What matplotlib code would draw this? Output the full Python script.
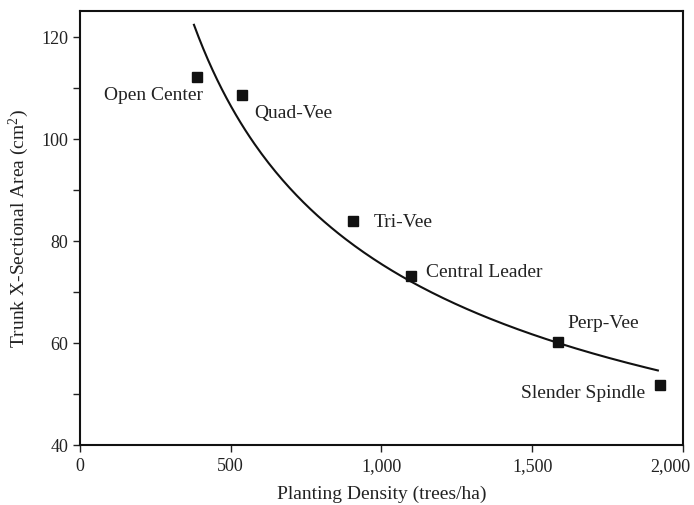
import numpy as np
import matplotlib
matplotlib.use('Agg')
import matplotlib.pyplot as plt
from matplotlib.ticker import FuncFormatter, MultipleLocator
from matplotlib.transforms import ScaledTranslation

# values
systems = ['Open Center', 'Quad-Vee', 'Tri-Vee', 'Central Leader', 'Perp-Vee', 'Slender Spindle']
density = [388, 537, 905, 1098, 1585, 1924]
area = [112.0, 108.5, 83.8, 73.1, 60.2, 51.7]
# label placement: offset in points and alignment
offsets = [(4, -12), (9, -12), (15, 0), (11, 3), (7, 14), (-11, -5)]
aligns = ['right', 'left', 'left', 'left', 'left', 'right']

plt.rcParams['font.family'] = ['Liberation Serif', 'DejaVu Serif']
plt.rcParams['mathtext.fontset'] = 'custom'
plt.rcParams['mathtext.rm'] = 'Liberation Serif'
plt.rcParams['mathtext.it'] = 'Liberation Serif:italic'

ink = '#222222'
fig = plt.figure(figsize=(6.94, 5.06), dpi=100)
ax = fig.add_axes([0.1153, 0.1186, 0.8687, 0.8574])

# power-law fit y = a*x^b through the points
b, lna = np.polyfit(np.log(density), np.log(area), 1)
xs = np.linspace(min(density) - 10, max(density) - 7, 200)
ax.plot(xs, np.exp(lna) * xs ** b, color='#111111', lw=1.5)

ax.plot(density, area, 's', color='#111111', ms=7.5)

for name, x, y, off, ha in zip(systems, density, area, offsets, aligns):
    ax.annotate(name, (x, y), xytext=off, textcoords='offset points',
                ha=ha, va='center', fontsize=14, color=ink)

ax.set_xlim(0, 2000)
ax.set_ylim(40, 125)
ax.set_xticks([0, 500, 1000, 1500, 2000])
ax.set_yticks([40, 60, 80, 100, 120])
ax.yaxis.set_minor_locator(MultipleLocator(10))
ax.xaxis.set_major_formatter(FuncFormatter(lambda v, p: '{:,.0f}'.format(v)))
ax.tick_params(which='both', direction='out', length=5, width=1, labelsize=13,
               colors=ink, pad=3.5)
for s in ax.spines.values():
    s.set_linewidth(1.5)
    s.set_color('#111111')

ax.set_xlabel('Planting Density (trees/ha)', fontsize=14, color=ink, labelpad=8)
ax.set_ylabel('Trunk X-Sectional Area (cm$^{2}$)', fontsize=14, color=ink,
              labelpad=7)

fig.canvas.draw()
last = ax.get_xticklabels()[-1]
last.set_transform(last.get_transform() + ScaledTranslation(-9 / 72, 0, fig.dpi_scale_trans))

fig.savefig('out.png', dpi=100)
